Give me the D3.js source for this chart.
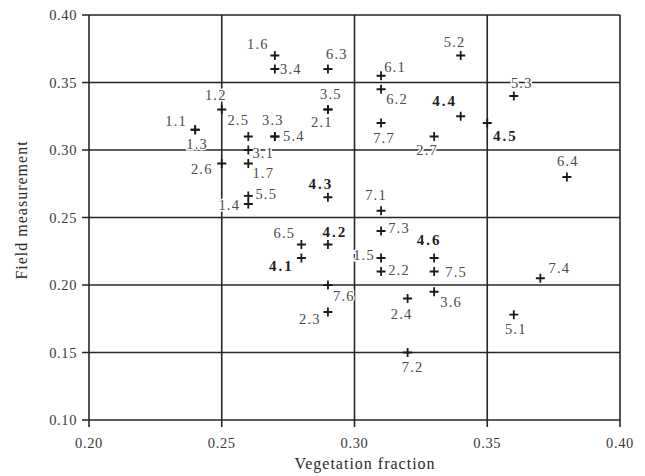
<!DOCTYPE html>
<html>
<head>
<meta charset="utf-8">
<script src="https://cdn.jsdelivr.net/npm/d3@7"></script>
<style>
body { margin: 0; background: #fff; }
text { font-family: "Liberation Serif", "Times New Roman", serif; }
</style>
</head>
<body>
<div class="chart"></div>
<script>
var width = 645,
	height = 476;

// site ids, vegetation fraction (x), field measurement (y)
var ids = ["1.1","1.2","1.3","1.4","1.5","1.6","1.7",
	"2.1","2.2","2.3","2.4","2.5","2.6","2.7",
	"3.1","3.3","3.4","3.5","3.6",
	"4.1","4.2","4.3","4.4","4.5","4.6",
	"5.1","5.2","5.3","5.4","5.5",
	"6.1","6.2","6.3","6.4","6.5",
	"7.1","7.2","7.3","7.4","7.5","7.6","7.7"];
var vegFraction = [0.24,0.25,0.24,0.26,0.31,0.27,0.26,
	0.29,0.31,0.29,0.32,0.26,0.25,0.33,
	0.26,0.27,0.27,0.29,0.33,
	0.28,0.29,0.29,0.34,0.35,0.33,
	0.36,0.34,0.36,0.27,0.26,
	0.31,0.31,0.29,0.38,0.28,
	0.31,0.32,0.31,0.37,0.33,0.29,0.31];
var fieldMeas = [0.315,0.33,0.315,0.26,0.22,0.37,0.29,
	0.33,0.21,0.18,0.19,0.31,0.29,0.31,
	0.30,0.31,0.36,0.33,0.195,
	0.22,0.23,0.265,0.325,0.32,0.22,
	0.178,0.37,0.34,0.31,0.266,
	0.355,0.345,0.36,0.28,0.23,
	0.255,0.15,0.24,0.205,0.21,0.20,0.32];
var xTicks = [0.20,0.25,0.30,0.35,0.40];
var yTicks = [0.10,0.15,0.20,0.25,0.30,0.35,0.40];

// where each label sits relative to its cross (px)
var labelOffset = {
	"1.1":[-19,-9],"1.2":[-6,-15],"1.3":[2,14],"1.4":[-19,1],"1.5":[-17,-3],"1.6":[-17,-12],"1.7":[15,9],
	"2.1":[-6,12],"2.2":[18,-2],"2.3":[-18,7],"2.4":[-6,15],"2.5":[-10,-17],"2.6":[-20,5],"2.7":[-7,13],
	"3.1":[15,3],"3.3":[-2,-17],"3.4":[16,0],"3.5":[3,-16],"3.6":[17,10],
	"4.1":[-20,8],"4.2":[7,-13],"4.3":[-7,-14],"4.4":[-16,-16],"4.5":[18,13],"4.6":[-5,-18],
	"5.1":[2,14],"5.2":[-6,-14],"5.3":[8,-13],"5.4":[19,-1],"5.5":[18,-2],
	"6.1":[14,-9],"6.2":[16,10],"6.3":[9,-15],"6.4":[1,-16],"6.5":[-17,-12],
	"7.1":[-5,-16],"7.2":[5,14],"7.3":[18,-3],"7.4":[19,-10],"7.5":[22,0],"7.6":[16,11],"7.7":[3,15]
};

var points = ids.map(function(id, i){ return {id: id, x: vegFraction[i], y: fieldMeas[i]}; });

var svg = d3.select(".chart").append("svg").attr("width", width).attr("height", height);
var x = d3.scaleLinear().domain([0.20, 0.40]).range([89, 620]);
var y = d3.scaleLinear().domain([0.10, 0.40]).range([420, 15]);
var ink = "#262626";

// grid lines + frame
svg.append("g").selectAll("line").data(yTicks).enter().append("line")
	.attr("x1", x(0.20) - 7).attr("x2", x(0.40))
	.attr("y1", function(d){ return y(d); }).attr("y2", function(d){ return y(d); })
	.attr("stroke", ink).attr("stroke-width", 1.6);
svg.append("g").selectAll("line").data(xTicks).enter().append("line")
	.attr("y1", y(0.40)).attr("y2", y(0.10) + 7)
	.attr("x1", function(d){ return x(d); }).attr("x2", function(d){ return x(d); })
	.attr("stroke", ink).attr("stroke-width", 1.6);

// tick labels
svg.append("g").selectAll("text").data(yTicks).enter().append("text")
	.attr("x", x(0.20) - 12).attr("y", function(d){ return y(d); })
	.attr("dy", "0.35em").attr("text-anchor", "end")
	.attr("font-size", 14.5).attr("letter-spacing", 0.6).attr("fill", "#3a3a3a")
	.text(function(d){ return d.toFixed(2); });
svg.append("g").selectAll("text").data(xTicks).enter().append("text")
	.attr("x", function(d){ return x(d); }).attr("y", 443)
	.attr("dy", "0.35em").attr("text-anchor", "middle")
	.attr("font-size", 14.5).attr("letter-spacing", 0.6).attr("fill", "#3a3a3a")
	.text(function(d){ return d.toFixed(2); });

// axis titles
svg.append("text").attr("x", 365).attr("y", 463).attr("dy", "0.35em")
	.attr("text-anchor", "middle").attr("font-size", 16).attr("letter-spacing", 1)
	.attr("fill", "#2a2a2a").text("Vegetation fraction");
svg.append("text").attr("transform", "translate(21,210) rotate(-90)").attr("dy", "0.35em")
	.attr("text-anchor", "middle").attr("font-size", 16).attr("letter-spacing", 1)
	.attr("fill", "#2a2a2a").text("Field measurement");

// point labels, white halo breaks the grid lines behind them
svg.append("g").selectAll("text").data(points).enter().append("text")
	.attr("x", function(d){ return x(d.x) + labelOffset[d.id][0]; })
	.attr("y", function(d){ return y(d.y) + labelOffset[d.id][1]; })
	.attr("dy", "0.35em").attr("text-anchor", "middle")
	.attr("font-size", function(d){ return d.id[0] == "4" ? 15 : 14.5; })
	.attr("font-weight", function(d){ return d.id[0] == "4" ? "bold" : "normal"; })
	.attr("letter-spacing", function(d){ return d.id[0] == "4" ? 2 : 1.2; })
	.attr("fill", function(d){ return d.id[0] == "4" ? "#1e1e1e" : "#4a4a4a"; })
	.attr("stroke", "#fff").attr("stroke-width", 3).attr("paint-order", "stroke")
	.text(function(d){ return d.id; });

// crosses
svg.append("g").selectAll("path").data(points).enter().append("path")
	.attr("transform", function(d){ return "translate(" + x(d.x) + "," + y(d.y) + ")"; })
	.attr("d", "M-4.5,0H4.5M0,-4.5V4.5")
	.attr("stroke", "#1a1a1a").attr("stroke-width", 1.8);
</script>
</body>
</html>
